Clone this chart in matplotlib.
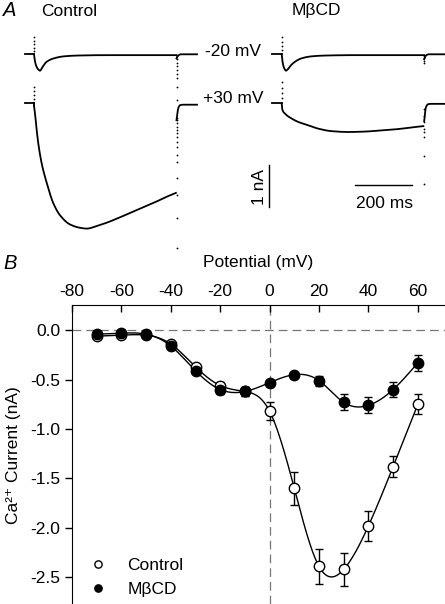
import matplotlib
matplotlib.use("Agg")
import matplotlib.pyplot as plt
import numpy as np

plt.rcParams['font.family'] = ['Liberation Sans', 'DejaVu Sans']
plt.rcParams['font.size'] = 12.5

# ---- panel B data (I-V relation) ----
potential = np.array([-70, -60, -50, -40, -30, -20, -10, 0, 10, 20, 30, 40, 50, 60])
ctrl_mean = np.array([-0.06, -0.05, -0.05, -0.14, -0.37, -0.56, -0.62, -0.82, -1.60, -2.39, -2.42, -1.98, -1.38, -0.75])
ctrl_err = np.array([0.01, 0.01, 0.01, 0.02, 0.03, 0.04, 0.05, 0.09, 0.17, 0.18, 0.17, 0.15, 0.11, 0.10])
mbcd_mean = np.array([-0.04, -0.03, -0.04, -0.16, -0.41, -0.60, -0.62, -0.53, -0.45, -0.51, -0.73, -0.76, -0.60, -0.33])
mbcd_err = np.array([0.01, 0.01, 0.01, 0.02, 0.03, 0.05, 0.05, 0.03, 0.02, 0.05, 0.08, 0.08, 0.08, 0.08])

# ---- panel A data (current traces, nA vs ms from pulse onset) ----
t_m20 = [0, 3, 8, 15, 21, 30, 44, 68, 103, 150, 250, 350, 450, 500]
ctrl_m20 = [0, -0.15, -0.28, -0.36, -0.39, -0.30, -0.18, -0.10, -0.05, -0.03, -0.02, -0.02, -0.02, -0.02]
mbcd_m20 = [0, -0.18, -0.32, -0.39, -0.36, -0.28, -0.19, -0.10, -0.05, -0.03, -0.02, -0.02, -0.02, -0.02]
t_tail20 = [500, 503, 508, 515, 572]
ctrl_tail20 = [-0.10, -0.05, -0.02, 0, 0]
mbcd_tail20 = [-0.12, -0.06, -0.02, 0, 0]

t_ctrl30 = [0, 3.5, 7, 15, 27, 45, 68, 91, 126, 161, 185, 220, 255, 302, 360, 419, 466, 498]
ctrl_p30 = [-0.05, -0.24, -0.48, -0.95, -1.43, -1.90, -2.38, -2.66, -2.88, -2.96, -2.98, -2.92, -2.84, -2.71, -2.54, -2.37, -2.22, -2.13]
t_mbcd30 = [0, 2, 11, 35, 58, 93, 128, 175, 234, 292, 351, 409, 456, 497]
mbcd_p30 = [0, -0.14, -0.24, -0.36, -0.44, -0.52, -0.60, -0.66, -0.68, -0.67, -0.64, -0.61, -0.57, -0.54]
t_tail30 = [500, 504, 508, 513, 523, 572]
ctrl_tail30 = [-0.40, -0.18, -0.08, -0.04, -0.03, -0.03]
mbcd_tail30 = [-0.42, -0.15, -0.06, -0.02, -0.01, -0.01]

# capacitive transient samples (sparse dots at pulse on/off)
ctrl_on20 = [0.08, 0.16, 0.24, 0.32, 0.40]
ctrl_off20 = [-0.05, -0.12, -0.2, -0.28, -0.37, -0.46, -0.56, -0.77, -1.1]
ctrl_on30 = [0.1, 0.2, 0.3, 0.4]
ctrl_off30 = [-0.35, -0.4, -0.47, -0.57, -0.64, -0.71, -0.81, -0.93, -1.04, -1.23, -1.40, -1.78, -2.19, -2.73, -3.45]
mbcd_on20 = [0.1, 0.2, 0.3, 0.4]
mbcd_off20 = [-0.05, -0.1, -0.15, -0.2]
mbcd_on30 = [0.12, 0.25, 0.37, 0.5]
mbcd_off30 = [-0.14, -0.3, -0.45, -0.6, -0.69, -0.79, -1.26, -1.93]


def natural_spline(x, y, xs):
    x = np.asarray(x, float); y = np.asarray(y, float)
    n = len(x)
    h = np.diff(x)
    A = np.zeros((n, n)); r = np.zeros(n)
    A[0, 0] = A[-1, -1] = 1
    for i in range(1, n - 1):
        A[i, i - 1] = h[i - 1]; A[i, i] = 2 * (h[i - 1] + h[i]); A[i, i + 1] = h[i]
        r[i] = 3 * ((y[i + 1] - y[i]) / h[i] - (y[i] - y[i - 1]) / h[i - 1])
    c = np.linalg.solve(A, r)
    b = (y[1:] - y[:-1]) / h - h * (2 * c[:-1] + c[1:]) / 3
    d = (c[1:] - c[:-1]) / (3 * h)
    idx = np.clip(np.searchsorted(x, xs) - 1, 0, n - 2)
    dx = xs - x[idx]
    return y[idx] + b[idx] * dx + c[idx] * dx ** 2 + d[idx] * dx ** 3


def pchip(x, y, xs):
    # shape preserving cubic, no overshoot
    x = np.asarray(x, float); y = np.asarray(y, float)
    h = np.diff(x)
    delta = np.diff(y) / h
    n = len(x)
    d = np.zeros(n)
    d[0], d[-1] = delta[0], delta[-1]
    for i in range(1, n - 1):
        if delta[i - 1] * delta[i] > 0:
            w1 = 2 * h[i] + h[i - 1]
            w2 = h[i] + 2 * h[i - 1]
            d[i] = (w1 + w2) / (w1 / delta[i - 1] + w2 / delta[i])
    idx = np.clip(np.searchsorted(x, xs) - 1, 0, n - 2)
    s = (xs - x[idx]) / h[idx]
    h00 = 2 * s ** 3 - 3 * s ** 2 + 1
    h10 = s ** 3 - 2 * s ** 2 + s
    h01 = -2 * s ** 3 + 3 * s ** 2
    h11 = s ** 3 - s ** 2
    return h00 * y[idx] + h10 * h[idx] * d[idx] + h01 * y[idx + 1] + h11 * h[idx] * d[idx + 1]


def smooth(t, v, shift=0.0, dy=0.0):
    ts = np.linspace(t[0], t[-1], 800)
    return ts + shift, pchip(t, v, ts) + dy


W, H = 445, 604
fig = plt.figure(figsize=(W / 100, H / 100), dpi=100)


def px(x, y):
    return x / W, 1 - y / H


# ================= panel A =================
axA = fig.add_axes([0, 1 - 255 / H, 1, 255 / H])
axA.axis('off')
pxms = 0.285
axA.set_xlim(-34 / pxms, (W - 34) / pxms)
axA.set_ylim((54.3 - 255) / 42, 54.3 / 42)
off30 = -1.17
moff = (281.7 - 34) / pxms

lw = 1.3
k = 'black'
for shift, pre, m20, tail20, t30, p30, tail30 in [
        (0.0, [-31, 0], ctrl_m20, ctrl_tail20, t_ctrl30, ctrl_p30, ctrl_tail30),
        (moff, [-34, 0], mbcd_m20, mbcd_tail20, t_mbcd30, mbcd_p30, mbcd_tail30)]:
    axA.plot(np.array(pre) + shift, [0, 0], color=k, lw=lw)
    axA.plot(np.array(pre) + shift, [off30, off30], color=k, lw=lw)
    axA.plot(*smooth(t_m20, m20, shift), color=k, lw=lw)
    axA.plot(*smooth(t_tail20, tail20, shift), color=k, lw=lw)
    axA.plot(*smooth(t30, p30, shift, off30), color=k, lw=lw)
    axA.plot(*smooth(t_tail30, tail30, shift, off30), color=k, lw=lw)
    axA.plot([shift, shift], [off30, off30 + p30[0]], color=k, lw=lw)

dot = dict(ls='none', marker='o', ms=1.3, mew=0, color=k)
axA.plot([0] * len(ctrl_on20), ctrl_on20, **dot)
axA.plot([500] * len(ctrl_off20), ctrl_off20, **dot)
axA.plot([0] * len(ctrl_on30), np.array(ctrl_on30) + off30, **dot)
axA.plot([500] * len(ctrl_off30), np.array(ctrl_off30) + off30, **dot)
axA.plot([moff] * len(mbcd_on20), mbcd_on20, **dot)
axA.plot([moff + 500] * len(mbcd_off20), mbcd_off20, **dot)
axA.plot([moff] * len(mbcd_on30), np.array(mbcd_on30) + off30, **dot)
axA.plot([moff + 500] * len(mbcd_off30), np.array(mbcd_off30) + off30, **dot)

# scale bars
axA.plot([(269 - 34) / pxms] * 2, [-2.64, -3.64], color=k, lw=1)
axA.plot([(355 - 34) / pxms, (355 - 34) / pxms + 200], [-3.11, -3.11], color=k, lw=1)

fig.text(*px(3, 11), 'A', style='italic', fontsize=14.5, va='center', ha='left')
fig.text(*px(41, 11), 'Control', va='center', ha='left')
fig.text(*px(292, 11), 'M\u03b2CD', va='center', ha='left')
fig.text(*px(205, 51), '-20 mV', va='center', ha='left')
fig.text(*px(203, 98), '+30 mV', va='center', ha='left')
fig.text(*px(259, 187), '1 nA', va='center', ha='center', rotation=90)
fig.text(*px(384, 203), '200 ms', va='center', ha='center')
fig.text(*px(3, 263), 'B', style='italic', fontsize=14.5, va='center', ha='left')

# ================= panel B =================
axB = fig.add_axes([72 / W, 0, 1 - 72 / W, 1 - 305.5 / H])
axB.set_xlim(-80, 71)
axB.set_ylim(-2.77, 0.25)
axB.spines['right'].set_visible(False)
axB.spines['bottom'].set_visible(False)
axB.xaxis.tick_top()
axB.xaxis.set_label_position('top')
axB.set_xticks(np.arange(-80, 61, 20))
axB.set_xticklabels([str(v) for v in range(-80, 61, 20)])
axB.set_yticks([0.0, -0.5, -1.0, -1.5, -2.0, -2.5])
axB.set_yticklabels(['0.0', '-0.5', '-1.0', '-1.5', '-2.0', '-2.5'])
axB.tick_params(axis='x', direction='in', length=5, width=1, pad=5)
axB.tick_params(axis='y', direction='out', length=5, width=1)
axB.set_xlabel('Potential (mV)', labelpad=12)
axB.set_ylabel('Ca\u00b2\u207a Current (nA)')
axB.yaxis.set_label_coords(-(72 - 21) / (W - 72), 0.5)

axB.axhline(0, color='#777777', lw=0.9, ls=(0, (7, 4)), zorder=1)
axB.axvline(0, color='#777777', lw=0.9, ls=(0, (7, 4)), zorder=1)

xs = np.linspace(-70, 60, 400)
axB.plot(xs, natural_spline(potential, ctrl_mean, xs), color=k, lw=1, zorder=2)
axB.plot(xs, natural_spline(potential, mbcd_mean, xs), color=k, lw=1, zorder=2)
axB.errorbar(potential, ctrl_mean, yerr=ctrl_err, fmt='none', ecolor=k, elinewidth=1, capsize=3, zorder=3)
axB.errorbar(potential, mbcd_mean, yerr=mbcd_err, fmt='none', ecolor=k, elinewidth=1, capsize=3, zorder=3)
axB.plot(potential, ctrl_mean, 'o', ms=7.5, mfc='white', mec=k, mew=1, zorder=4, label='Control')
axB.plot(potential, mbcd_mean, 'o', ms=7.5, mfc=k, mec=k, mew=1, zorder=5, label='M\u03b2CD')

axB.legend(loc='lower left', bbox_to_anchor=(0.0, -0.03), frameon=False, markerscale=0.7,
           handlelength=1.2, handletextpad=1.1, labelspacing=0.5)

fig.savefig('out.png', dpi=100)
